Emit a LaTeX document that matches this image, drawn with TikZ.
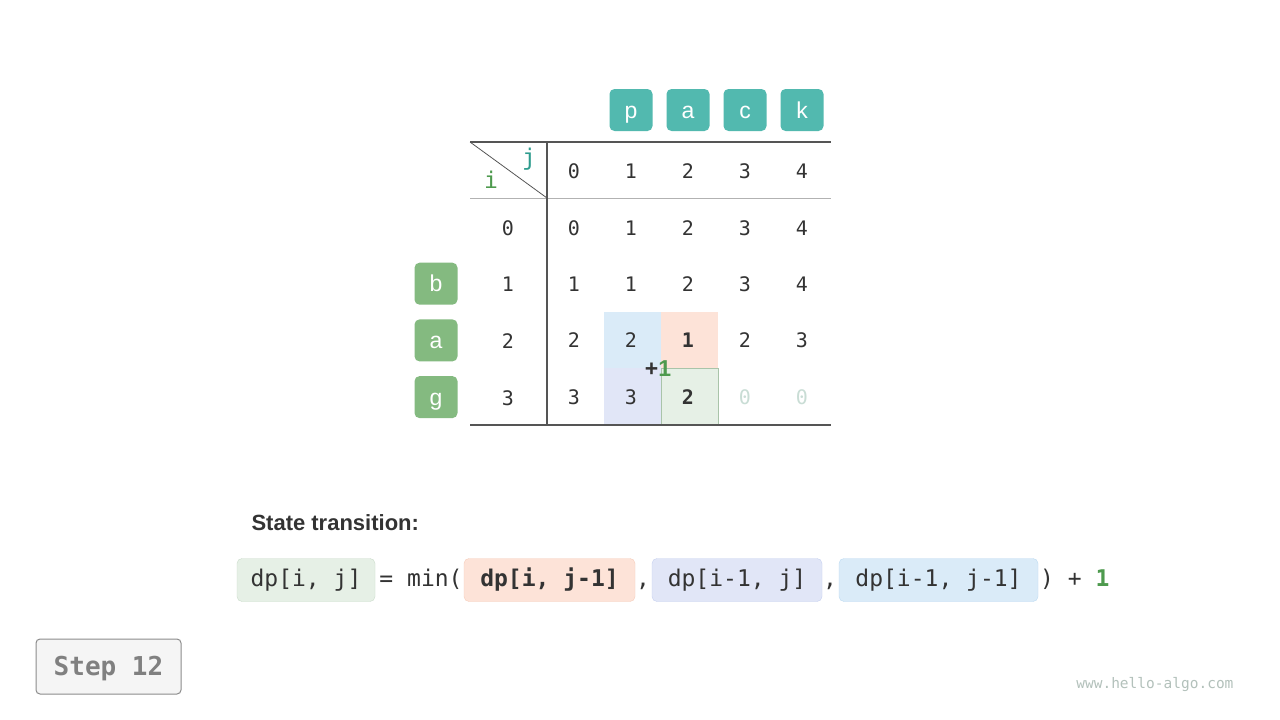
\documentclass[tikz,border=0pt]{standalone}
\usepackage{fontspec}
\setmainfont{Liberation Sans}
\setmonofont{DejaVu Sans Mono}
\usetikzlibrary{positioning}

\definecolor{colbox}{HTML}{52B9AF}
\definecolor{rowbox}{HTML}{84BA80}
\definecolor{textdark}{HTML}{333333}
\definecolor{gridline}{HTML}{555555}
\definecolor{greenfill}{HTML}{E6F0E6}
\definecolor{greenedge}{HTML}{A9C4A9}
\definecolor{redfill}{HTML}{FDE3D8}
\definecolor{rededge}{HTML}{F6CDBB}
\definecolor{purplefill}{HTML}{E1E6F7}
\definecolor{purpleedge}{HTML}{C6D0F0}
\definecolor{bluefill}{HTML}{DAEBF8}
\definecolor{blueedge}{HTML}{BCDAF2}
\definecolor{plusgreen}{HTML}{4E9A4E}
\definecolor{jteal}{HTML}{2E9C8E}
\definecolor{faded}{HTML}{C9DDD5}

\begin{document}
\begin{tikzpicture}[x=1pt, y=-1pt,
	colletter/.style = {fill = colbox, text = white, rounded corners = 5pt, minimum width = 43pt, minimum height = 42pt, text height = 16pt, text depth = 0pt, font = \fontsize{23}{23}\selectfont},
	rowletter/.style = {colletter, fill = rowbox},
	num/.style = {text = textdark, font = \fontsize{20}{20}\selectfont\ttfamily},
	formbox/.style = {draw, rounded corners = 5pt, minimum height = 43pt, inner sep = 0pt, text height = 17pt, text depth = 5pt, text = textdark, font = \fontsize{23}{23}\selectfont\ttfamily},
	formtext/.style = {text = textdark, inner sep = 0pt, text height = 17pt, text depth = 5pt, font = \fontsize{23}{23}\selectfont\ttfamily}]

	% Canvas
	
	\fill [white] (0, 0) rectangle (1280, 720);
	
	% Highlighted cells
	
	\fill [bluefill] (604, 312) rectangle (661, 368);
	\fill [redfill] (661, 312) rectangle (718, 368);
	\fill [purplefill] (604, 368) rectangle (661, 425);
	\draw [fill = greenfill, draw = greenedge] (661, 368) rectangle (718, 425);
	
	% Grid lines
	
	\draw [gridline, line width = 1.5pt] (470, 142) -- (831, 142);
	\draw [gray!60, line width = 1pt] (470, 198) -- (831, 198);
	\draw [gridline, line width = 1.5pt] (470, 425) -- (831, 425);
	\draw [gridline, line width = 1.5pt] (547, 142) -- (547, 425);
	\draw [gridline, line width = 0.8pt] (470, 142) -- (547, 198);
	
	\node [num, text = jteal, font = \fontsize{23}{23}\selectfont\ttfamily] (jlabel) at (529, 159) {j};
	\node [num, text = plusgreen, font = \fontsize{23}{23}\selectfont\ttfamily] (ilabel) at (491, 180) {i};
	
	% String letters
	
	\foreach \ch [count = \k] in {p, a, c, k}
		\node [colletter] (c\k) at (574 + 57 * \k, 110) {\ch};
	\foreach \ch [count = \k] in {b, a, g}
		\node [rowletter] (r\k) at (436, 227 + 56.7 * \k) {\ch};
	
	% Indices
	
	\foreach \v [count = \c from 0] in {0, 1, 2, 3, 4}
		\node [num] (h\c) at (574 + 57 * \c, 171) {\v};
	\foreach \r in {0, 1, 2, 3}
		\node [num] (i\r) at (508, 228 + 56.7 * \r) {\r};
	
	% Table values
	
	\foreach \v [count = \c from 0] in {0, 1, 2, 3, 4}
		\node [num] (dA\c) at (574 + 57 * \c, 228) {\v};
	\foreach \v [count = \c from 0] in {1, 1, 2, 3, 4}
		\node [num] (dB\c) at (574 + 57 * \c, 284) {\v};
	\foreach \v [count = \c from 0] in {2, 2, {\bfseries 1}, 2, 3}
		\node [num] (dC\c) at (574 + 57 * \c, 340) {\v};
	\node [num] (dD0) at (574, 397) {3};
	\node [num] (dD1) at (631, 397) {3};
	\node [num] (dD2) at (688, 397) {\bfseries 2};
	\node [num, text = faded] (dD3) at (745, 397) {0};
	\node [num, text = faded] (dD4) at (802, 397) {0};
	
	\node [num, font = \fontsize{23}{23}\selectfont\bfseries] (plus) at (658, 369) {+\textcolor{plusgreen}{1}};
	
	% State transition
	
	\node [anchor = west, text = textdark, font = \fontsize{22}{22}\selectfont\bfseries] (title) at (248, 523) {State transition:};
	
	\node [formbox, fill = greenfill, draw = greenedge!60, minimum width = 138pt] (lhs) at (306, 580) {dp[i, j]};
	\node [formtext] (eq) at (421, 580) {= min(};
	\node [formbox, fill = redfill, draw = rededge, minimum width = 171pt, font = \fontsize{23}{23}\selectfont\ttfamily\bfseries] (left) at (549.5, 580) {dp[i, j-1]};
	\node [formtext] (comA) at (643, 580) {,};
	\node [formbox, fill = purplefill, draw = purpleedge, minimum width = 170pt] (up) at (737, 580) {dp[i-1, j]};
	\node [formtext] (comB) at (830, 580) {,};
	\node [formbox, fill = bluefill, draw = blueedge, minimum width = 199pt] (diag) at (938.5, 580) {dp[i-1, j-1]};
	\node [formtext, anchor = west] (rhs) at (1040, 580) {) + \textcolor{plusgreen}{\bfseries 1}};
	
	% Step and site
	
	\node [draw = gray!90, line width = 1pt, fill = gray!8, rounded corners = 4pt, minimum width = 145pt, minimum height = 55pt, text height = 19pt, text depth = 2pt, text = gray, font = \fontsize{26}{26}\selectfont\ttfamily\bfseries] (step) at (108.5, 666.5) {Step 12};
	\node [anchor = east, text = faded!70!gray, font = \fontsize{14.5}{14.5}\selectfont\ttfamily] (site) at (1237, 685) {www.hello-algo.com};
	
\end{tikzpicture}
\end{document}
